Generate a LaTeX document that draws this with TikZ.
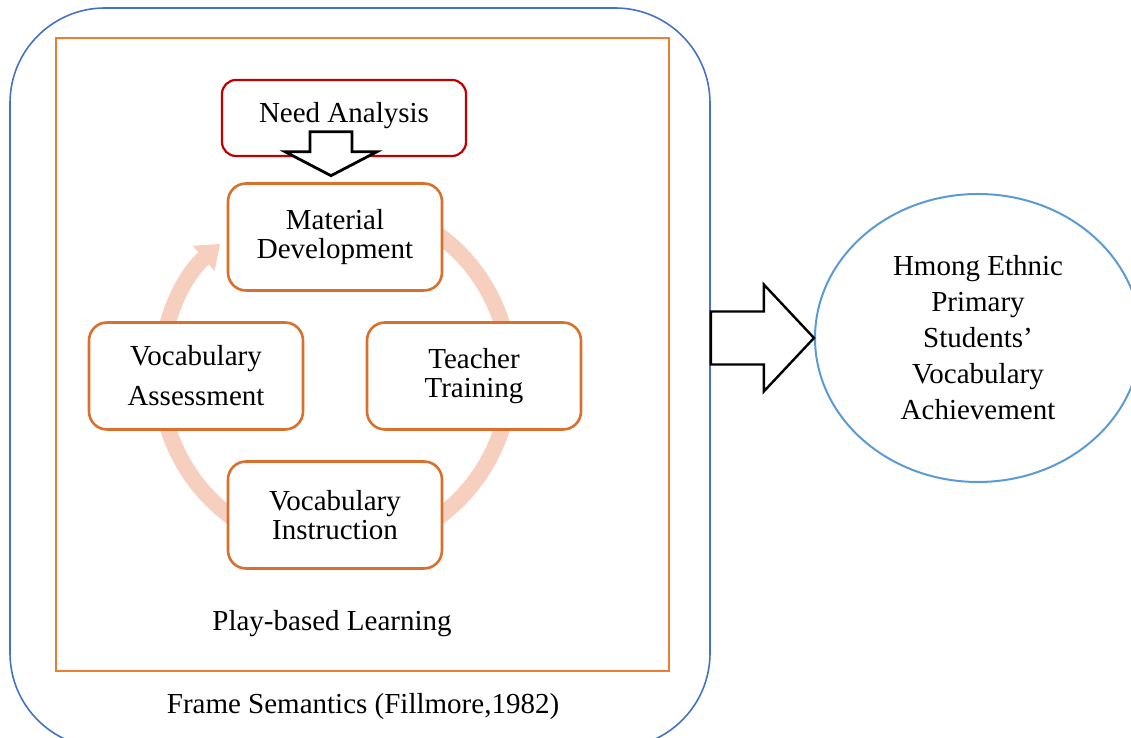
\documentclass[tikz,border=0pt]{standalone}
\usepackage{fontspec}
\setmainfont{Liberation Serif}
\usetikzlibrary{arrows.meta,shapes.geometric,calc}
\definecolor{frameblue}{RGB}{68,114,196}
\definecolor{playorange}{RGB}{237,125,49}
\definecolor{boxorange}{RGB}{218,112,45}
\definecolor{needred}{RGB}{192,0,0}
\definecolor{ellblue}{RGB}{91,155,213}
\definecolor{bandpink}{RGB}{247,207,190}
\begin{document}
\begin{tikzpicture}[x=0.5pt,y=0.5pt,
  every node/.style={font=\fontsize{14.5}{14.5}\selectfont, align=center, inner sep=0pt},
  stagebox/.style={draw=boxorange, line width=1.3pt, fill=white, rounded corners=9pt,
    minimum width=107pt, minimum height=53.5pt},
  needbox/.style={draw=needred, line width=1.1pt, fill=white, rounded corners=7pt,
    minimum width=122pt, minimum height=38pt},
  blockarrow/.style={draw=black, fill=white, line join=miter},
  cyclearc/.style={draw=bandpink, line width=8pt, -{Triangle[length=11pt,width=16pt]}}
]
\useasboundingbox (0,0) rectangle (1131,738);
% outer frame
\node[draw=frameblue, line width=0.8pt, rounded corners=47.5pt,
  minimum width=350pt, minimum height=370pt] (frame) at (360,360) {};
% play-based learning frame
\node[draw=playorange, line width=0.8pt, minimum width=306.5pt,
  minimum height=316.5pt] (play) at (362.5,383.5) {};
% cycle band
\coordinate (cyc) at (335,362);
\draw[cyclearc] ($(cyc)+(60:87.5pt)$) arc[start angle=60, end angle=-229, radius=87.5pt];
% stage boxes
\node[needbox, text height=10pt, text depth=5.5pt] (need) at (344,620) {Need Analysis};
\node[stagebox] (mat) at (335,501) {Material\\Development};
\node[stagebox] (asm) at (196,362) {Vocabulary\\[5.5pt]Assessment};
\node[stagebox] (tt) at (474,362) {Teacher\\Training};
\node[stagebox] (vi) at (335,223) {Vocabulary\\Instruction};
% labels
\node (playlbl) at (332,114) {Play-based Learning};
\node (framelbl) at (363,31) {Frame Semantics (Fillmore,1982)};
% down block arrow
\coordinate (dtip) at ($(mat.north)+(-4,6.5)$);
\draw[blockarrow, line width=1.4pt] ($(dtip)+(-21,44)$) -- ($(dtip)+(21,44)$) -- ($(dtip)+(21,24)$)
  -- ($(dtip)+(46,24)$) -- (dtip) -- ($(dtip)+(-46,24)$) -- ($(dtip)+(-21,24)$) -- cycle;
% ellipse
\node[ellipse, draw=ellblue, line width=1pt, minimum width=163pt, minimum height=144pt] (ell)
  at (978,400) {Hmong Ethnic\\[3.5pt]Primary\\[3.5pt]Students’\\[3.5pt]Vocabulary\\[3.5pt]Achievement};
% right block arrow
\coordinate (rs) at (frame.east |- ell.west);
\draw[blockarrow, line width=1.2pt] ($(rs)+(0,26.5)$) -- ($(rs)+(53,26.5)$) -- ($(rs)+(53,53.5)$)
  -- (ell.west) -- ($(rs)+(53,-53.5)$) -- ($(rs)+(53,-26.5)$) -- ($(rs)+(0,-26.5)$) -- cycle;
\end{tikzpicture}
\end{document}
